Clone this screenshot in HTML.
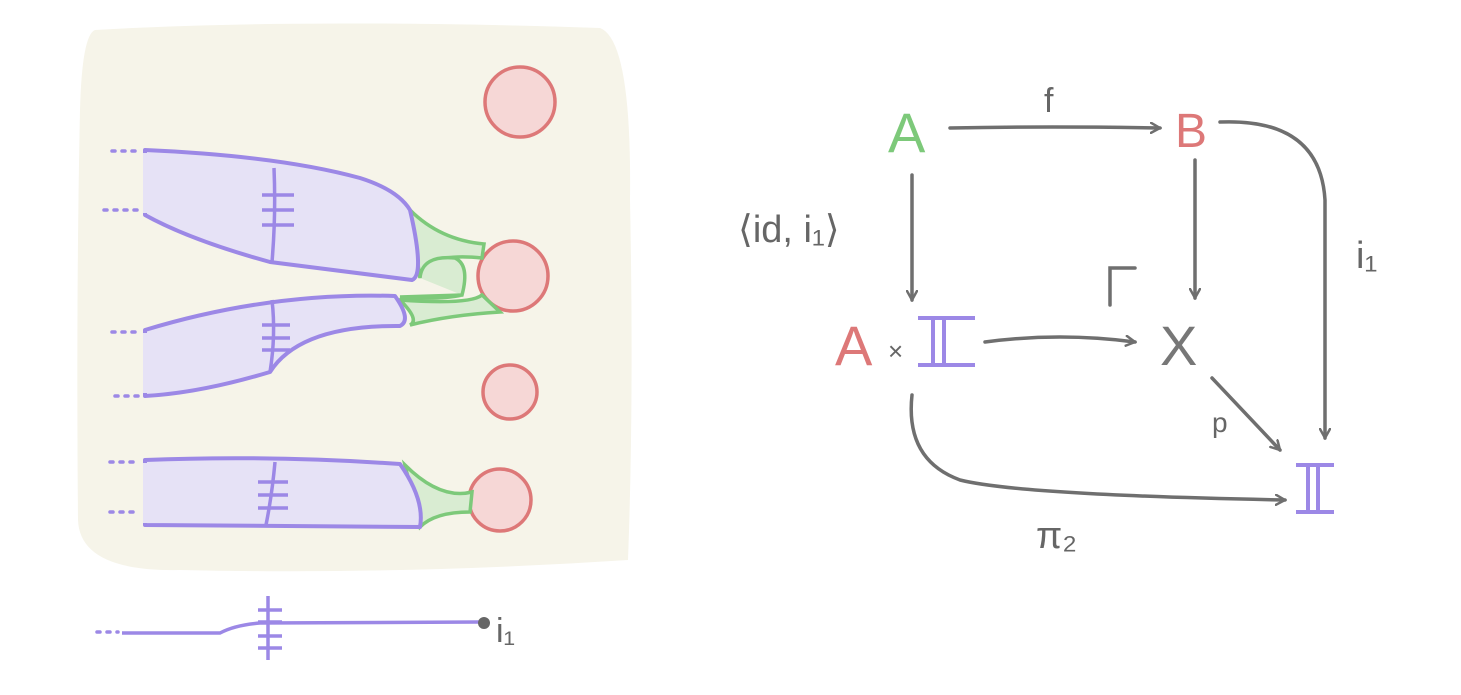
<!DOCTYPE html>
<html><head><meta charset="utf-8"><style>
html,body{margin:0;padding:0;background:#fff;width:1461px;height:695px;overflow:hidden}
text{font-family:"Liberation Sans",sans-serif}
</style></head><body>
<svg width="1461" height="695" viewBox="0 0 1461 695">
<defs>
<marker id="ah" viewBox="0 0 12 12" refX="10" refY="6" markerWidth="12" markerHeight="12" markerUnits="userSpaceOnUse" orient="auto"><path d="M1,1 L10,6 L1,11" fill="none" stroke="#6f6f6f" stroke-width="2.5" stroke-linecap="round"/></marker>
</defs>
<g>
<path d="M95,30 Q300,18 600,28 Q632,40 630,200 Q634,400 628,560 Q400,575 180,570 Q80,572 78,520 Q76,300 80,110 Q82,35 95,30Z" fill="#f6f4e9"/>
<g stroke="#dd7878" stroke-width="3.5" fill="#f6d7d6">
<circle cx="520" cy="102" r="35"/>
<circle cx="513" cy="276" r="35"/>
<circle cx="510" cy="392" r="27"/>
<circle cx="500" cy="500" r="31"/>
</g>
<g fill="#d9ecd2" stroke="#7dc97a" stroke-width="3.5">
<path d="M410,210 Q440,240 484,244 L482,258 Q425,252 420,278Z"/>
<path d="M420,278 Q422,255 455,258 Q470,265 462,295 L400,297 Q440,300 462,295"/>
<path d="M400,300 Q420,320 410,325 Q450,315 500,312 L482,295 Q470,305 400,300Z"/>
<path d="M405,465 Q440,500 472,492 L470,512 Q435,512 420,527Z"/>
</g>
<g fill="#e6e2f6" stroke="#9c88e6" stroke-width="4" stroke-linejoin="round">
<path d="M145,150 Q280,156 360,178 Q398,190 410,210 Q425,275 412,280 L270,262 Q190,240 145,215Z" />
<path d="M145,330 Q270,292 395,296 Q412,320 400,326 Q300,325 270,372 Q200,393 145,396Z"/>
<path d="M145,460 Q270,455 400,464 Q425,500 420,527 L145,525Z"/>
</g>
<g fill="#e6e2f6"><rect x="143" y="153" width="5" height="60"/><rect x="143" y="333" width="5" height="60"/><rect x="143" y="463" width="5" height="60"/></g>
<g stroke="#9c88e6" stroke-width="3.5" stroke-dasharray="3,7" stroke-linecap="round">
<path d="M112,151 H140 M104,210 H140 M112,332 H140 M115,396 H140 M110,462 H140 M110,512 H140 M97,632 H118"/>
</g>
<g stroke="#9c88e6" stroke-width="3.5" fill="none">
<path d="M274,168 Q276,215 272,262"/>
<path d="M262,195 H294 M262,210 H294 M262,225 H294"/>
<path d="M272,300 Q276,335 270,372"/>
<path d="M262,325 H290 M262,338 H290 M262,350 H290"/>
<path d="M275,462 Q272,495 266,525"/>
<path d="M258,482 H288 M258,495 H288 M258,508 H288"/>
<path d="M122,633 L220,633 Q235,625 260,623 L480,622"/>
<path d="M268,596 V660 M258,610 H282 M258,622 H282 M258,636 H282 M258,648 H282"/>
</g>
<circle cx="484" cy="623" r="6" fill="#666"/>
<text x="496" y="642" font-size="34" fill="#666">i₁</text>
</g>
<g stroke="#6f6f6f" stroke-width="3.5" fill="none" stroke-linecap="round">
<path d="M950,128 Q1050,126 1160,128" marker-end="url(#ah)"/>
<path d="M1220,122 Q1320,118 1325,200 L1325,438" marker-end="url(#ah)"/>
<path d="M912,175 L912,300" marker-end="url(#ah)"/>
<path d="M1195,160 L1195,298" marker-end="url(#ah)"/>
<path d="M985,342 Q1060,332 1135,342" marker-end="url(#ah)"/>
<path d="M1110,305 V268 H1135"/>
<path d="M1212,378 L1280,450" marker-end="url(#ah)"/>
<path d="M912,395 Q905,460 960,480 Q1020,495 1285,500" marker-end="url(#ah)"/>
</g>
<g font-size="56">
<text x="888" y="152" fill="#7dc97a">A</text>
<text x="1175" y="147" font-size="48" fill="#dd7878">B</text>
<text x="835" y="365" fill="#dd7878">A</text>
<text x="888" y="360" font-size="26" fill="#666">×</text>
<text x="1160" y="365" fill="#777">X</text>
</g>
<g stroke="#9c88e6" stroke-width="4" fill="none">
<path d="M918,318 H975 M918,365 H975 M933,318 V365 M944,318 V365"/>
<path d="M1296,465 H1334 M1296,512 H1334 M1308,465 V512 M1318,465 V512"/>
</g>
<g fill="#666" font-size="34">
<text x="1044" y="112">f</text>
<text x="738" y="242" font-size="38">⟨id, i₁⟩</text>
<text x="1356" y="268" font-size="38">i₁</text>
<text x="1212" y="432" font-size="28">p</text>
<text x="1036" y="548" font-size="38">π₂</text>
</g>
</svg>
</body></html>
